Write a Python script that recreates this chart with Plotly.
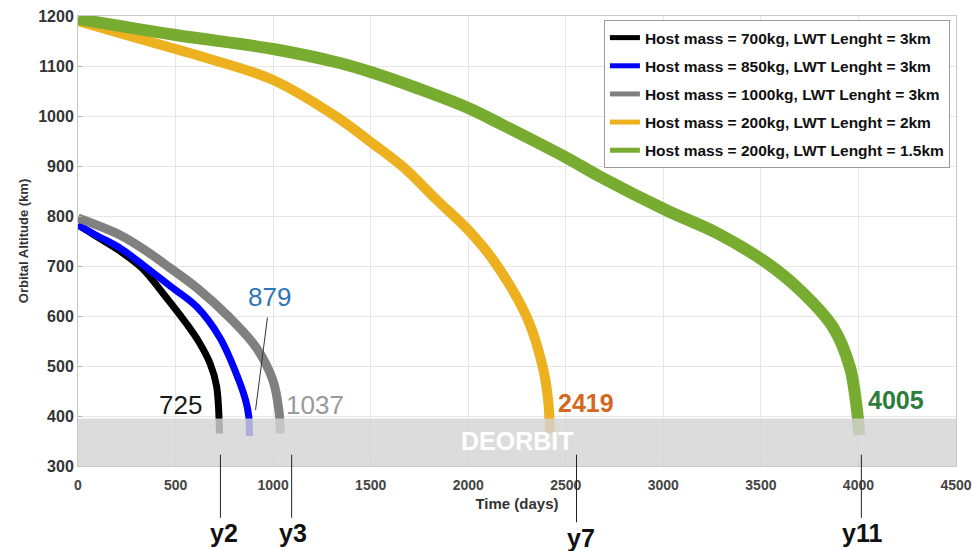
import plotly.graph_objects as go

FONT = "Liberation Sans, Arial, sans-serif"

series_names = [
    "Host mass = 700kg, LWT Lenght = 3km",
    "Host mass = 850kg, LWT Lenght = 3km",
    "Host mass = 1000kg, LWT Lenght = 3km",
    "Host mass = 200kg, LWT Lenght = 2km",
    "Host mass = 200kg, LWT Lenght = 1.5km",
]
series_colors = ["#000000", "#0000FF", "#808080", "#EDB120", "#77AC30"]
series_widths = [7, 7, 9, 10, 12]

t_700 = [0, 100, 215, 330, 436, 559, 620, 677, 710, 725]
alt_700 = [782, 758, 730, 695, 645, 583, 548, 505, 460, 365]

t_850 = [0, 100, 215, 340, 472, 610, 728, 820, 860, 875, 879]
alt_850 = [782, 760, 736, 700, 660, 618, 556, 476, 430, 400, 360]

t_1000 = [0, 215, 350, 472, 610, 779, 915, 1000, 1030, 1037]
alt_1000 = [796, 762, 730, 696, 656, 596, 536, 470, 410, 365]

t_200_2 = [0, 300, 500, 641, 1000, 1326, 1500, 1667, 1839, 2000, 2128, 2300, 2382, 2410, 2419]
alt_200_2 = [1190, 1156, 1134, 1118, 1072, 998, 948, 898, 832, 772, 712, 598, 498, 430, 365]

t_200_15 = [0, 500, 1000, 1341, 1500, 1736, 2000, 2177, 2497, 2674, 3018, 3274, 3531, 3700, 3869, 3956, 3990, 4005]
alt_200_15 = [1194, 1162, 1134, 1106, 1088, 1056, 1016, 982, 918, 879, 811, 766, 706, 652, 578, 498, 420, 362]

times = [t_700, t_850, t_1000, t_200_2, t_200_15]
alts = [alt_700, alt_850, alt_1000, alt_200_2, alt_200_15]

# end-of-life labels
end_labels = ["725", "879", "1037", "2419", "4005"]
end_label_x = [526, 982, 1213, 2603, 4192]
end_label_y = [422, 638, 422, 426, 432]
end_label_colors = ["#1a1a1a", "#2E75B6", "#9a9a9a", "#D2691E", "#2E7D3A"]
end_label_bold = [False, False, False, True, True]

# deorbit band
deorbit_low, deorbit_high = 300, 395

# year markers
year_labels = ["y2", "y3", "y7", "y11"]
year_values = [2, 3, 7, 11]

fig = go.Figure()

for t, a, c, w in zip(times, alts, series_colors, series_widths):
    fig.add_trace(go.Scatter(x=t, y=a, mode="lines", line=dict(color=c, width=w, shape="spline"),
                             showlegend=False, hoverinfo="skip"))

for i, (n, c) in enumerate(zip(series_names, series_colors)):
    fig.add_trace(go.Scatter(x=[None], y=[None], mode="lines", line=dict(color=c, width=5),
                             name=f"<b>{n}</b>", legendgroup=f"g{i}"))

fig.add_shape(type="rect", xref="x", yref="y", x0=0, x1=4500, y0=deorbit_low, y1=deorbit_high,
              fillcolor="rgba(212,212,212,0.82)", line=dict(width=0), layer="above")

fig.add_annotation(x=2254, y=350, text="<b>DEORBIT</b>", showarrow=False,
                   font=dict(family=FONT, size=25, color="white"))

for txt, x, y, c, b in zip(end_labels, end_label_x, end_label_y, end_label_colors, end_label_bold):
    fig.add_annotation(x=x, y=y, text=f"<b>{txt}</b>" if b else txt, showarrow=False,
                       font=dict(family=FONT, size=26 if not b else 25, color=c))

# pointer for 879
fig.add_annotation(x=910, y=412, ax=972, ay=600, axref="x", ayref="y", text="",
                   showarrow=True, arrowhead=0, arrowwidth=1, arrowcolor="#333333")

for lab, yr in zip(year_labels, year_values):
    d = 365 * yr
    fig.add_shape(type="line", xref="x", yref="paper", x0=d, x1=d, y0=0.025,
                  y1=-0.115 if lab != "y7" else -0.125, line=dict(color="#222222", width=1))
    fig.add_annotation(x=d, xref="x", yref="paper", y=-0.148 if lab != "y7" else -0.16,
                       text=f"<b>{lab}</b>", showarrow=False, yanchor="middle",
                       xshift=4 if lab in ("y2", "y7") else 1,
                       font=dict(family=FONT, size=25, color="#111111"))

fig.update_layout(
    width=972, height=551,
    margin=dict(l=78, r=16, t=16, b=85),
    paper_bgcolor="white", plot_bgcolor="white",
    font=dict(family=FONT),
    legend=dict(x=0.599, y=0.991, xanchor="left", yanchor="top",
                bgcolor="white", bordercolor="#9a9a9a", borderwidth=1,
                font=dict(family=FONT, size=15.5, color="#111111"),
                tracegroupgap=5, itemwidth=30),
)
fig.update_xaxes(range=[0, 4500], dtick=500, showgrid=True, gridcolor="#e6e6e6",
                 showline=True, linecolor="#c8c8c8", mirror=True, ticks="inside", ticklen=4,
                 tickcolor="#b0b0b0", zeroline=False, ticklabelstandoff=6, automargin=False,
                 tickfont=dict(family=FONT, size=14, color="#444444"),
                 tickprefix="<b>", ticksuffix="</b>",
                 title=dict(text="<b>Time (days)</b>", standoff=6,
                            font=dict(family=FONT, size=15, color="#333333")))
fig.update_yaxes(range=[300, 1200], dtick=100, showgrid=True, gridcolor="#e6e6e6",
                 showline=True, linecolor="#c8c8c8", mirror=True, ticks="inside", ticklen=4,
                 tickcolor="#b0b0b0", zeroline=False, automargin=False,
                 tickfont=dict(family=FONT, size=16, color="#333333"),
                 tickprefix="<b>", ticksuffix="</b>",
                 title=dict(text="<b>Orbital Altitude (km)</b>", standoff=6,
                            font=dict(family=FONT, size=13, color="#333333")))

fig.write_html("out.html")
